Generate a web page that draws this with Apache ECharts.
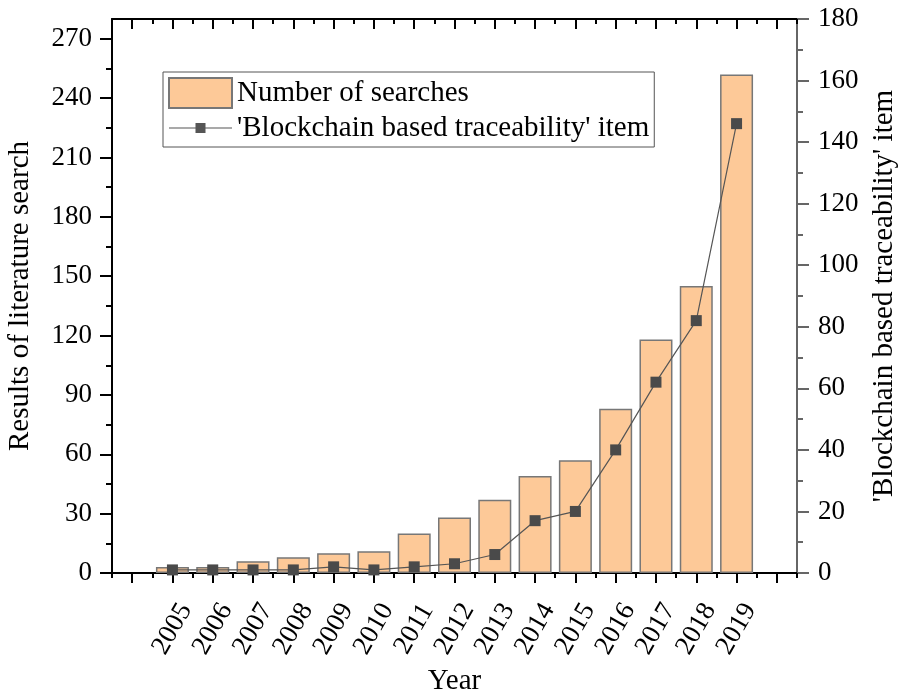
<!DOCTYPE html>
<html>
<head>
<meta charset="utf-8">
<script src="https://cdn.jsdelivr.net/npm/echarts@6/dist/echarts.min.js"></script>
<style>html,body{margin:0;padding:0;background:#fff;}#c{width:901px;height:697px;}</style>
</head>
<body>
<div id="c"></div>
<script>
var years = [2005,2006,2007,2008,2009,2010,2011,2012,2013,2014,2015,2016,2017,2018,2019];
var searches = [3,3,6,8,10,11,20,28,37,49,57,83,118,145,252];
var traceItems = [1,1,1,1,2,1,2,3,6,17,20,40,62,82,146];
var xMajorTicks = [2004,2005,2006,2007,2008,2009,2010,2011,2012,2013,2014,2015,2016,2017,2018,2019,2020];
var xMinorTicks = [2003.5,2004.5,2005.5,2006.5,2007.5,2008.5,2009.5,2010.5,2011.5,2012.5,2013.5,2014.5,2015.5,2016.5,2017.5,2018.5,2019.5,2020.5];
var leftTicks = [0,30,60,90,120,150,180,210,240,270];
var leftMinor = [15,45,75,105,135,165,195,225,255];
var rightTicks = [0,20,40,60,80,100,120,140,160,180];
var rightMinor = [10,30,50,70,90,110,130,150,170];

var FONT = "'Liberation Serif','Times New Roman',serif";
var chart = echarts.init(document.getElementById('c'), null, {renderer:'canvas'});

function pairs(xs, ys){ return xs.map(function(x,i){return [x, ys[i]];}); }

// legend icon for the line series: thin line with a small square, in a 63x30 box
var lineIcon = 'path://M0,0L0.01,0L0.01,0.01Z M62.99,29.99L63,29.99L63,30Z M0,14.4L63,14.4L63,15.6L0,15.6Z M26.5,10L36.5,10L36.5,20L26.5,20Z';

var xBase = {type:'value', min:2003.5, max:2020.5, splitLine:{show:false}};
var option = {
  animation:false,
  textStyle:{fontFamily:FONT},
  grid:{left:112, right:104, top:19, bottom:124, containLabel:false, outerBoundsMode:'none'},
  legend:{
    left:163, top:72, orient:'vertical', itemGap:4,
    itemWidth:63, itemHeight:30,
    padding:[5,5,4,5],
    borderColor:'#555', borderWidth:1, backgroundColor:'#fff',
    textStyle:{fontFamily:FONT, fontSize:29, color:'#000'},
    data:[{name:'Number of searches', icon:'rect'},{name:"'Blockchain based traceability' item", icon:lineIcon, itemStyle:{color:'#555'}}]
  },
  xAxis:[
    Object.assign({}, xBase, {position:'bottom',
      name:'Year', nameLocation:'middle', nameGap:93,
      nameTextStyle:{fontFamily:FONT, fontSize:29, color:'#000'},
      axisLine:{show:true, onZero:false, lineStyle:{color:'#000', width:2}},
      axisTick:{show:true, inside:false, length:10, lineStyle:{color:'#000', width:2}, customValues:xMajorTicks},
      axisLabel:{show:true, rotate:60, margin:56, align:'center', verticalAlign:'middle', fontFamily:FONT, fontSize:27, color:'#000', customValues:years, formatter:function(v){return String(v);}}
    }),
    Object.assign({}, xBase, {position:'bottom',
      axisLine:{show:false, onZero:false},
      axisTick:{show:true, inside:false, length:5, lineStyle:{color:'#000', width:2}, customValues:xMinorTicks},
      axisLabel:{show:false}
    }),
    Object.assign({}, xBase, {position:'top',
      axisLine:{show:true, onZero:false, lineStyle:{color:'#000', width:2}},
      axisTick:{show:true, inside:true, length:10, lineStyle:{color:'#000', width:2}, customValues:xMajorTicks},
      axisLabel:{show:false}
    }),
    Object.assign({}, xBase, {position:'top',
      axisLine:{show:false, onZero:false},
      axisTick:{show:true, inside:true, length:5, lineStyle:{color:'#000', width:2}, customValues:xMinorTicks},
      axisLabel:{show:false}
    })
  ],
  yAxis:[
    {type:'value', position:'left', min:0, max:280, splitLine:{show:false},
      name:'Results of literature search', nameLocation:'middle', nameGap:77,
      nameTextStyle:{fontFamily:FONT, fontSize:29, color:'#000'},
      axisLine:{show:true, onZero:false, lineStyle:{color:'#000', width:2}},
      axisTick:{show:true, inside:false, length:12, lineStyle:{color:'#000', width:2}, customValues:leftTicks},
      axisLabel:{show:true, margin:20, fontFamily:FONT, fontSize:27, color:'#000', customValues:leftTicks}
    },
    {type:'value', position:'left', min:0, max:280, splitLine:{show:false},
      axisLine:{show:false, onZero:false},
      axisTick:{show:true, inside:false, length:6, lineStyle:{color:'#000', width:2}, customValues:leftMinor},
      axisLabel:{show:false}
    },
    {type:'value', position:'right', min:0, max:180, splitLine:{show:false},
      name:"'Blockchain based traceability' item", nameLocation:'middle', nameGap:70, nameRotate:90,
      nameTextStyle:{fontFamily:FONT, fontSize:29, color:'#000'},
      axisLine:{show:true, onZero:false, lineStyle:{color:'#666', width:2}},
      axisTick:{show:true, inside:false, length:12, lineStyle:{color:'#666', width:2}, customValues:rightTicks},
      axisLabel:{show:true, margin:21, fontFamily:FONT, fontSize:27, color:'#000', customValues:rightTicks}
    },
    {type:'value', position:'right', min:0, max:180, splitLine:{show:false},
      axisLine:{show:false, onZero:false},
      axisTick:{show:true, inside:false, length:6, lineStyle:{color:'#666', width:2}, customValues:rightMinor},
      axisLabel:{show:false}
    }
  ],
  series:[
    {name:'Number of searches', type:'bar', xAxisIndex:0, yAxisIndex:0,
      barWidth:33, data:pairs(years, searches),
      itemStyle:{color:'#FDC998', borderColor:'#777', borderWidth:1.5}
    },
    {name:"'Blockchain based traceability' item", type:'line', xAxisIndex:0, yAxisIndex:2,
      data:pairs(years, traceItems), symbol:'rect', symbolSize:11,
      lineStyle:{color:'#555', width:1.2},
      itemStyle:{color:'#4a4a4a'}
    }
  ]
};
chart.setOption(option);
</script>
</body>
</html>
